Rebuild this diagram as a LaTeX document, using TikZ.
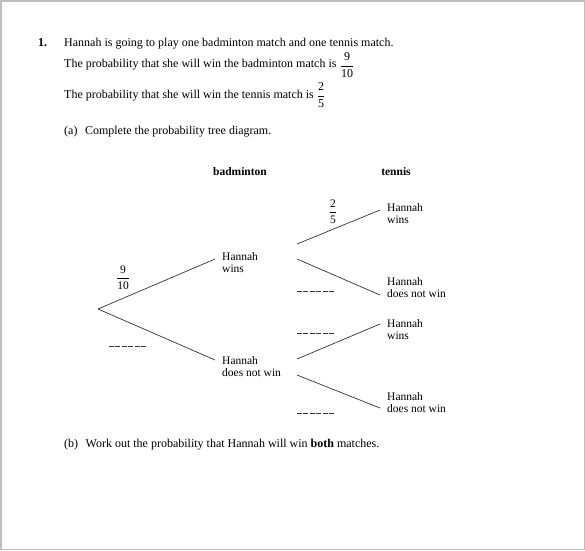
\documentclass[tikz,border=0pt]{standalone}
\usepackage{amsmath}
\usepackage{fontspec}
\setmainfont{Liberation Serif}
\begin{document}
\begin{tikzpicture}
                [x=1pt, y=-1pt,
                 txt/.style={anchor=base west, inner sep=0pt, font=\fontsize{12}{14}\selectfont},
                 head/.style={anchor=base, inner sep=0pt, font=\fontsize{11.5}{12}\selectfont\bfseries},
                 outcome/.style={anchor=base west, inner sep=0pt, align=left, font=\fontsize{11.5}{12}\selectfont},
                 prob/.style={inner sep=0pt, font=\fontsize{11.5}{12}\selectfont},
                 branch/.style={draw, black!80, line width=0.7pt},
                 blank/.style={draw, black!80, line width=0.6pt, dash pattern=on 5pt off 1.4pt}]
                \useasboundingbox (0,0) rectangle (585,550);
                \draw[black!25, line width=1.5pt] (0.75,0.75) rectangle (584.25,549.25);
                % Question text
                \node[txt] (num) at (38,46) {\textbf{1.}};
                \node[txt] (q1) at (64,46) {Hannah is going to play one badminton match and one tennis match.};
                \node[txt] (q2) at (64,67) {The probability that she will win the badminton match is};
                \node[prob, font=\fontsize{12}{14}\selectfont] (f1) at (347,65) {$\dfrac{\text{9}}{\text{10}}$};
                \node[txt] (q3) at (64,98) {The probability that she will win the tennis match is};
                \node[prob, font=\fontsize{12}{14}\selectfont] (f2) at (321,95) {$\dfrac{\text{2}}{\text{5}}$};
                \node[txt] (qa) at (64,134) {(a)\hspace{7.5pt}Complete the probability tree diagram.};
                \node[txt] (qb) at (64,447) {(b)\hspace{7.5pt}Work out the probability that Hannah will win \textbf{both} matches.};
                % Define nodes
                \node[head] (hb) at (240,175) {badminton};
                \node[head] (ht) at (396,175) {tennis};
                \coordinate (root) at (98,309);
                \node[outcome] (bw) at (222,272) {Hannah\\wins};
                \node[outcome] (bl) at (222,376) {Hannah\\does not win};
                \node[outcome] (tw1) at (387,223) {Hannah\\wins};
                \node[outcome] (tl1) at (387,297) {Hannah\\does not win};
                \node[outcome] (tw2) at (387,339) {Hannah\\wins};
                \node[outcome] (tl2) at (387,412) {Hannah\\does not win};
                \coordinate (bwin) at (215,259);
                \coordinate (blin) at (215,360);
                \coordinate (bwup) at (297,244);
                \coordinate (bwdn) at (297,259);
                \coordinate (blup) at (297,359);
                \coordinate (bldn) at (297,375);
                \coordinate (tw1in) at (380,210);
                \coordinate (tl1in) at (380,295);
                \coordinate (tw2in) at (380,324);
                \coordinate (tl2in) at (380,408);
                % Define edges
                \draw[branch] (root) -- (bwin);
                \draw[branch] (root) -- (blin);
                \draw[branch] (bwup) -- (tw1in);
                \draw[branch] (bwdn) -- (tl1in);
                \draw[branch] (blup) -- (tw2in);
                \draw[branch] (bldn) -- (tl2in);
                % Probabilities
                \node[prob] (p1) at (123,278) {$\dfrac{\text{9}}{\text{10}}$};
                \node[prob] (p2) at (333,212) {$\dfrac{\text{2}}{\text{5}}$};
                \draw[blank] (109,346) -- (146,346);
                \draw[blank] (297,291) -- (334,291);
                \draw[blank] (297,333) -- (334,333);
                \draw[blank] (297,413) -- (334,413);
            \end{tikzpicture}
\end{document}
